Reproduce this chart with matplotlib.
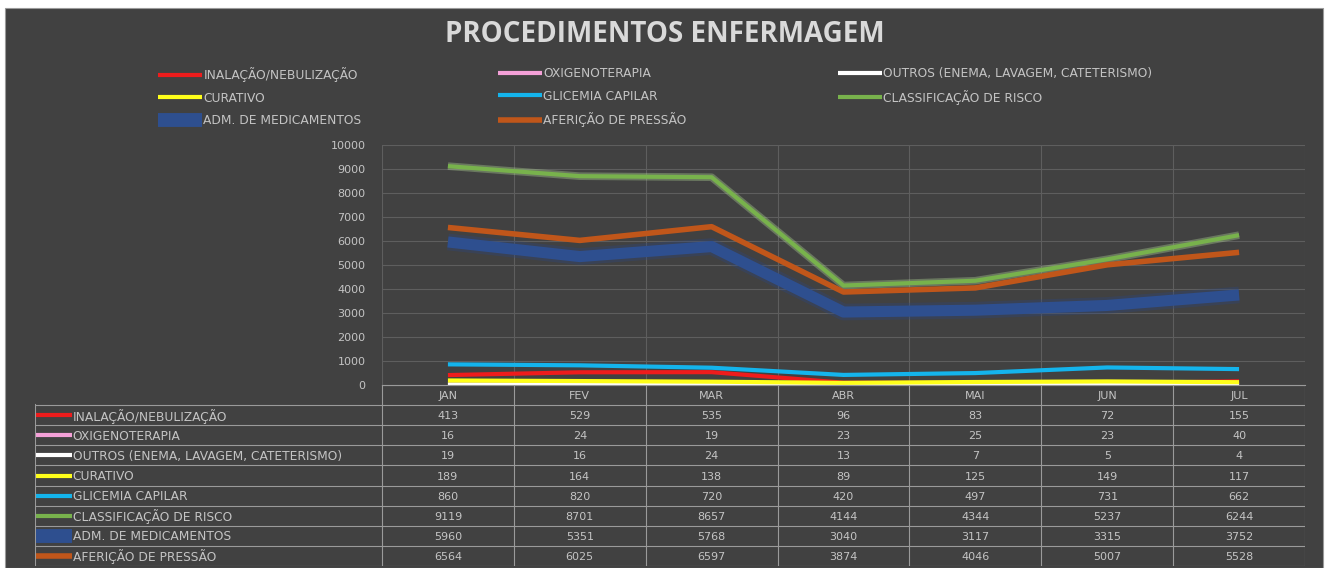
import matplotlib.pyplot as plt
from matplotlib.lines import Line2D
from matplotlib.patches import Rectangle

months = ['JAN', 'FEV', 'MAR', 'ABR', 'MAI', 'JUN', 'JUL']
series_names = ['INALAÇÃO/NEBULIZAÇÃO', 'OXIGENOTERAPIA',
                'OUTROS (ENEMA, LAVAGEM, CATETERISMO)', 'CURATIVO',
                'GLICEMIA CAPILAR', 'CLASSIFICAÇÃO DE RISCO',
                'ADM. DE MEDICAMENTOS', 'AFERIÇÃO DE PRESSÃO']
inalacao = [413, 529, 535, 96, 83, 72, 155]
oxigenoterapia = [16, 24, 19, 23, 25, 23, 40]
outros = [19, 16, 24, 13, 7, 5, 4]
curativo = [189, 164, 138, 89, 125, 149, 117]
glicemia = [860, 820, 720, 420, 497, 731, 662]
classificacao = [9119, 8701, 8657, 4144, 4344, 5237, 6244]
adm_medicamentos = [5960, 5351, 5768, 3040, 3117, 3315, 3752]
afericao = [6564, 6025, 6597, 3874, 4046, 5007, 5528]
values = [inalacao, oxigenoterapia, outros, curativo, glicemia,
          classificacao, adm_medicamentos, afericao]

colors = ['#ee1c1c', '#f4a0d8', '#ffffff', '#ffff1a', '#14b4ec',
          '#78b24c', '#2e4f8f', '#c0561a']
widths = [3.0, 3.0, 3.0, 3.0, 3.0, 3.0, 8.0, 4.0]

plt.rcParams['font.family'] = ['DejaVu Sans']
bg = '#414141'
txt = '#c4c4c4'
grid = '#5e5e5e'
border = '#9a9a9a'
fs = 8        # numbers and ticks
fs_lab = 8.8  # series names

W, H = 1326, 568
fig = plt.figure(figsize=(W / 100, H / 100), dpi=100)
fig.patch.set_facecolor('white')
fig.patches.append(Rectangle((5 / W, 0), (1323 - 5) / W, (H - 8) / H,
                             transform=fig.transFigure, facecolor=bg,
                             edgecolor='#9a9a9a', lw=0.8, zorder=-10))

fig.text(665 / W, 1 - 35 / H, 'PROCEDIMENTOS ENFERMAGEM', ha='center', va='center',
         fontsize=20, fontweight='bold', color='#d9d9d9', family=['Open Sans', 'DejaVu Sans'])

# plot area
px0, px1, py0, py1 = 382, 1305, 145, 385
ax = fig.add_axes([px0 / W, 1 - py1 / H, (px1 - px0) / W, (py1 - py0) / H])
ax.set_facecolor(bg)
x = list(range(len(months)))
for name, vals, c, lw in zip(series_names, values, colors, widths):
    if name == 'CLASSIFICAÇÃO DE RISCO':
        ax.plot(x, vals, color='#b5dc98', lw=lw + 2.5, alpha=0.35, solid_capstyle='butt')
    if name == 'ADM. DE MEDICAMENTOS':
        ax.plot(x, vals, color='#2b4680', lw=lw + 4, alpha=0.35, solid_capstyle='butt')
    ax.plot(x, vals, color=c, lw=lw, label=name, solid_capstyle='butt')
ax.set_xlim(-0.5, 6.5)
ax.set_ylim(0, 10000)
ax.set_yticks(range(0, 10001, 1000))
ax.set_xticks([i + 0.5 for i in range(-1, 7)])
ax.tick_params(axis='x', length=0, labelbottom=False)
ax.tick_params(axis='y', length=0, colors=txt, labelsize=fs, pad=12)
ax.grid(True, color=grid, lw=0.8)
ax.set_axisbelow(True)
for s in ax.spines.values():
    s.set_visible(False)
ax.spines['bottom'].set_visible(True)
ax.spines['bottom'].set_color(border)

# data table
tx0, ty0, ty1 = 35, 385, 566
colw = (px1 - px0) / 7
ext = (px0 - tx0) / colw
tab = fig.add_axes([tx0 / W, 1 - ty1 / H, (px1 - tx0) / W, (ty1 - ty0) / H])
tab.set_facecolor(bg)
tab.set_xlim(-0.5 - ext, 6.5)
nrows = len(series_names) + 1
tab.set_ylim(nrows, 0)
tab.axis('off')
for r in range(nrows + 1):
    start = -0.5 if r == 0 else -0.5 - ext
    tab.plot([start, 6.5], [r, r], color=border, lw=0.8)
for cx in [i - 0.5 for i in range(8)]:
    tab.plot([cx, cx], [0, nrows], color=border, lw=0.8)
tab.plot([-0.5 - ext, -0.5 - ext], [1, nrows], color=border, lw=1.5)
for i, m in enumerate(months):
    tab.text(i, 0.55, m, ha='center', va='center', color=txt, fontsize=fs)
sw = 37 / colw
for r, (name, vals, c, lw) in enumerate(zip(series_names, values, colors, widths), start=1):
    y = r + 0.5
    tab.plot([-0.5 - ext + 0.01, -0.5 - ext + sw], [y, y], color=c,
             lw=lw if lw < 8 else 10, solid_capstyle='butt')
    tab.text(-0.5 - ext + sw + 0.005, y + 0.05, name, ha='left', va='center',
             color=txt, fontsize=fs_lab)
    for i, v in enumerate(vals):
        tab.text(i, y + 0.05, str(v), ha='center', va='center', color=txt, fontsize=fs)

# legend at top, row-wise in three columns
legend_cols = [[0, 3, 6], [1, 4, 7], [2, 5]]
legend_x = [152, 492, 832]
for cols, lx in zip(legend_cols, legend_x):
    hs = [Line2D([], [], color=colors[k], lw=widths[k] if widths[k] < 8 else 10,
                 solid_capstyle='butt') for k in cols]
    fig.legend(hs, [series_names[k] for k in cols], loc='upper left',
               bbox_to_anchor=(lx / W, 1 - 61 / H), frameon=False,
               fontsize=fs_lab, labelcolor=txt, handlelength=3.6,
               handletextpad=0.1, labelspacing=0.78, borderpad=0)

fig.savefig('out.png', dpi=100, facecolor=fig.get_facecolor())
